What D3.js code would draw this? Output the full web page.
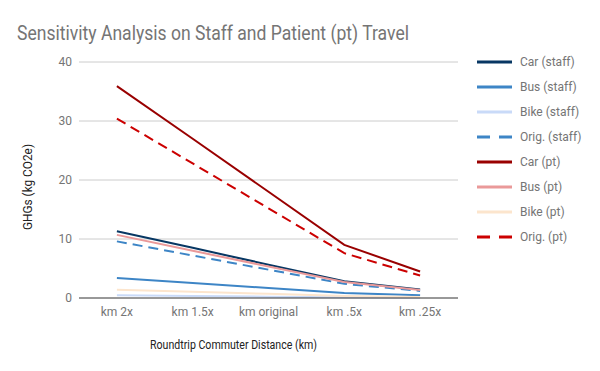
<!DOCTYPE html>
<html>
<head>
<meta charset="utf-8">
<script src="https://cdn.jsdelivr.net/npm/d3@7"></script>
<style>
  body { margin: 0; background: #fff; }
  text { font-family: Roboto, "Noto Sans", sans-serif; }
</style>
</head>
<body>
<div id="chart"></div>
<script>
const categories = ["km 2x", "km 1.5x", "km original", "km .5x", "km .25x"];
const carStaff = [11.3, 8.5, 5.65, 2.85, 1.45];
const busStaff = [3.4, 2.55, 1.7, 0.85, 0.45];
const bikeStaff = [0.45, 0.35, 0.23, 0.12, 0.06];
const origStaff = [9.6, 7.2, 4.8, 2.4, 1.2];
const carPt = [35.9, 27, 18, 9, 4.5];
const busPt = [10.7, 8.0, 5.35, 2.7, 1.35];
const bikePt = [1.4, 1.05, 0.7, 0.35, 0.18];
const origPt = [30.4, 22.8, 15.2, 7.6, 3.8];
const yTicks = [0, 10, 20, 30, 40];

const series = [
    { name: "Car (staff)", values: carStaff, color: "#073763", dash: null },
    { name: "Bus (staff)", values: busStaff, color: "#3d85c6", dash: null },
    { name: "Bike (staff)", values: bikeStaff, color: "#c9daf8", dash: null },
    { name: "Orig. (staff)", values: origStaff, color: "#3d85c6", dash: "10,6" },
    { name: "Car (pt)", values: carPt, color: "#990000", dash: null },
    { name: "Bus (pt)", values: busPt, color: "#ea9999", dash: null },
    { name: "Bike (pt)", values: bikePt, color: "#fce5cd", dash: null },
    { name: "Orig. (pt)", values: origPt, color: "#cc0000", dash: "10,6" }
];

const width = 600;
const height = 371;
const margin = { top: 62, right: 142, bottom: 73, left: 79 };

const svg = d3.select("#chart")
    .append("svg")
    .attr("width", width)
    .attr("height", height);

const x = d3.scaleBand()
    .domain(categories)
    .range([margin.left, width - margin.right]);

const y = d3.scaleLinear()
    .domain([0, 40])
    .range([height - margin.bottom, margin.top]);

// title
svg.append("text")
    .attr("x", 17)
    .attr("y", 40)
    .attr("font-size", 20)
    .attr("fill", "#757575")
    .attr("textLength", 392)
    .attr("lengthAdjust", "spacingAndGlyphs")
    .text("Sensitivity Analysis on Staff and Patient (pt) Travel");

// gridlines
svg.append("g")
    .selectAll("line")
    .data(yTicks.filter(d => d !== 0))
    .enter()
    .append("line")
    .attr("x1", margin.left)
    .attr("x2", width - margin.right)
    .attr("y1", d => y(d))
    .attr("y2", d => y(d))
    .attr("stroke", "#cccccc")
    .attr("stroke-width", 1);

// y tick labels
svg.append("g")
    .selectAll("text")
    .data(yTicks)
    .enter()
    .append("text")
    .attr("x", margin.left - 7)
    .attr("y", d => y(d) + 4)
    .attr("text-anchor", "end")
    .attr("font-size", 12)
    .attr("fill", "#757575")
    .text(d => d);

// x tick labels
svg.append("g")
    .selectAll("text")
    .data(categories)
    .enter()
    .append("text")
    .attr("x", d => x(d) + x.bandwidth() / 2)
    .attr("y", height - margin.bottom + 18)
    .attr("text-anchor", "middle")
    .attr("font-size", 12)
    .attr("fill", "#757575")
    .text(d => d);

// axis titles
svg.append("text")
    .attr("x", 150)
    .attr("y", 349)
    .attr("font-size", 12)
    .attr("fill", "#222")
    .attr("textLength", 167)
    .attr("lengthAdjust", "spacingAndGlyphs")
    .text("Roundtrip Commuter Distance (km)");

svg.append("text")
    .attr("transform", "translate(32,230) rotate(-90)")
    .attr("font-size", 12)
    .attr("fill", "#222")
    .attr("textLength", 86)
    .attr("lengthAdjust", "spacingAndGlyphs")
    .text("GHGs (kg CO2e)");

// lines
const line = d3.line()
    .x((d, i) => x(categories[i]) + x.bandwidth() / 2)
    .y(d => y(d));

svg.append("g")
    .selectAll("path")
    .data(series)
    .enter()
    .append("path")
    .attr("d", d => line(d.values))
    .attr("fill", "none")
    .attr("stroke", d => d.color)
    .attr("stroke-width", 2)
    .attr("stroke-dasharray", d => d.dash);

// baseline
svg.append("line")
    .attr("x1", margin.left)
    .attr("x2", width - margin.right)
    .attr("y1", y(0))
    .attr("y2", y(0))
    .attr("stroke", "#333")
    .attr("stroke-width", 1);

// legend
const legend = svg.append("g")
    .selectAll("g")
    .data(series)
    .enter()
    .append("g")
    .attr("transform", (d, i) => `translate(477,${62 + i * 25})`);

legend.append("line")
    .attr("x1", 0)
    .attr("x2", 35)
    .attr("stroke", d => d.color)
    .attr("stroke-width", 3)
    .attr("stroke-dasharray", d => d.dash ? "13,9" : null);

legend.append("text")
    .attr("x", 43)
    .attr("y", 4)
    .attr("font-size", 12)
    .attr("fill", "#757575")
    .text(d => d.name);
</script>
</body>
</html>
